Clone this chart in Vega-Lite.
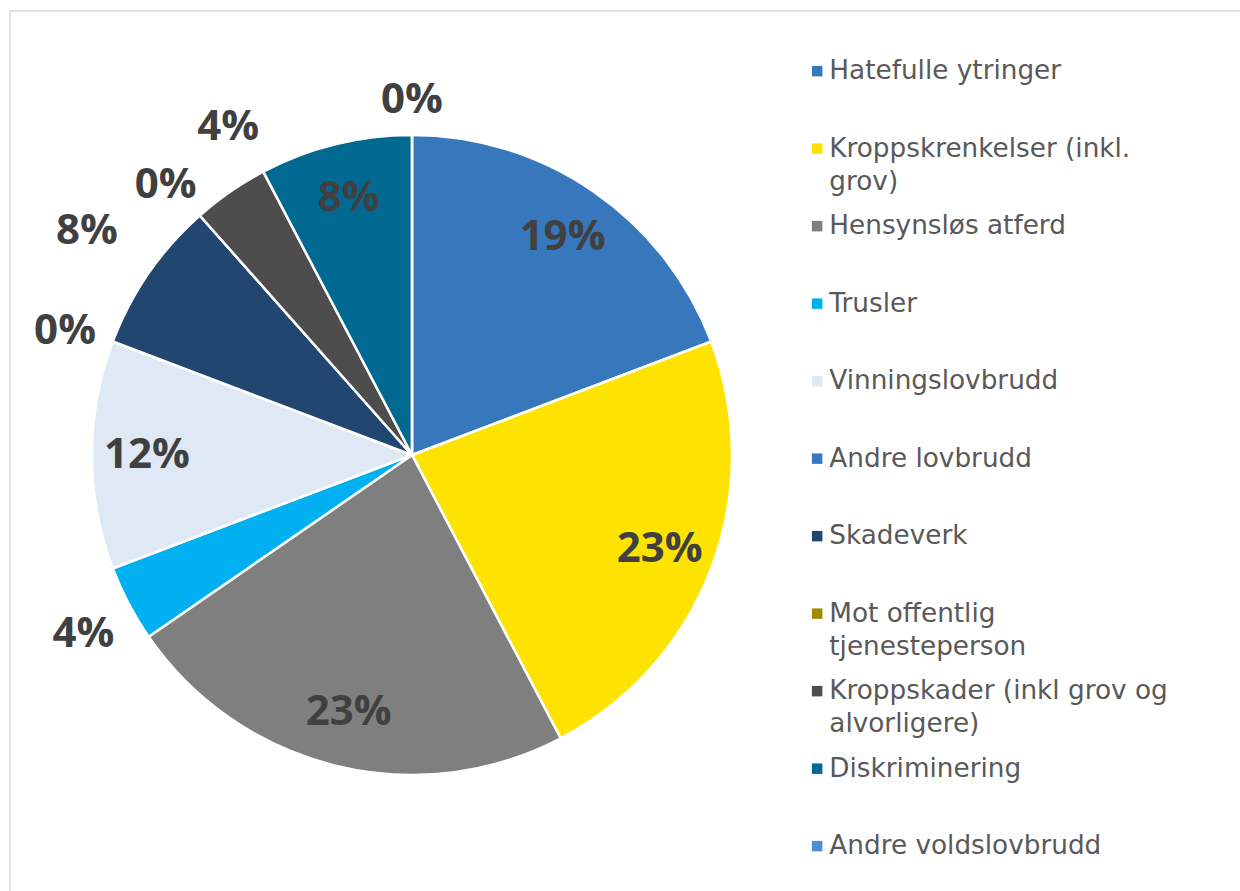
{
  "$schema": "https://vega.github.io/schema/vega-lite/v6.json",
  "width": 1240,
  "height": 890,
  "autosize": {"type": "none"},
  "padding": {"left": 10, "top": 11, "right": -10, "bottom": -10},
  "background": "white",
  "view": {"stroke": "#d9d9d9", "strokeWidth": 1.5, "fill": "white"},
  "config": {
    "style": {"guide-label": {"lineHeight": 33}},
    "legend": {
      "orient": "none",
      "legendX": 794,
      "legendY": 47,
      "padding": 0,
      "symbolType": "square",
      "symbolSize": 110,
      "symbolStrokeWidth": 0,
      "symbolOpacity": 1,
      "labelFont": "DejaVu Sans",
      "labelFontSize": 26.3,
      "labelColor": "#595959",
      "labelLimit": 600,
      "labelOffset": -1,
      "rowPadding": 17.5,
      "gridAlign": "all",
      "title": null
    }
  },
  "data": {
    "values": [
      {"idx": 1, "cat": "Hatefulle ytringer", "n": 5, "pct": "19%"},
      {"idx": 2, "cat": "Kroppskrenkelser (inkl. grov)", "n": 6, "pct": "23%"},
      {"idx": 3, "cat": "Hensynsløs atferd", "n": 6, "pct": "23%"},
      {"idx": 4, "cat": "Trusler", "n": 1, "pct": "4%"},
      {"idx": 5, "cat": "Vinningslovbrudd", "n": 3, "pct": "12%"},
      {"idx": 6, "cat": "Andre lovbrudd", "n": 0, "pct": "0%"},
      {"idx": 7, "cat": "Skadeverk", "n": 2, "pct": "8%"},
      {"idx": 8, "cat": "Mot offentlig tjenesteperson", "n": 0, "pct": "0%"},
      {"idx": 9, "cat": "Kroppskader (inkl grov og alvorligere)", "n": 1, "pct": "4%"},
      {"idx": 10, "cat": "Diskriminering", "n": 2, "pct": "8%"},
      {"idx": 11, "cat": "Andre voldslovbrudd", "n": 0, "pct": "0%"}
    ]
  },
  "encoding": {
    "theta": {"field": "n", "type": "quantitative", "stack": true},
    "order": {"field": "idx", "type": "quantitative"}
  },
  "layer": [
    {
      "mark": {"type": "arc", "radius": 320, "x": 402, "y": 444, "stroke": "white", "strokeWidth": 2.5},
      "encoding": {
        "color": {
          "field": "cat",
          "type": "nominal",
          "sort": null,
          "scale": {
            "domain": ["Hatefulle ytringer", "Kroppskrenkelser (inkl. grov)", "Hensynsløs atferd", "Trusler", "Vinningslovbrudd", "Andre lovbrudd", "Skadeverk", "Mot offentlig tjenesteperson", "Kroppskader (inkl grov og alvorligere)", "Diskriminering", "Andre voldslovbrudd"],
            "range": ["#3777BC", "#FFE300", "#7F7F7F", "#00B0F0", "#DFE8F5", "#3878BD", "#21466F", "#A08C00", "#4D4D4D", "#006991", "#4D8FD6"]
          },
          "legend": {
            "labelExpr": "datum.label == 'Kroppskrenkelser (inkl. grov)' ? ['Kroppskrenkelser (inkl.', 'grov)'] : datum.label == 'Mot offentlig tjenesteperson' ? ['Mot offentlig', 'tjenesteperson'] : datum.label == 'Kroppskader (inkl grov og alvorligere)' ? ['Kroppskader (inkl grov og', 'alvorligere)'] : datum.label"
          }
        }
      }
    },
    {
      "mark": {"type": "text", "x": 402, "y": 444, "radius": 265, "font": "Open Sans", "fontWeight": "bold", "fontSize": 42, "color": "#404040", "baseline": "middle", "align": "center"},
      "encoding": {
        "text": {"condition": {"test": "indexof(['Hatefulle ytringer','Kroppskrenkelser (inkl. grov)','Hensynsløs atferd','Vinningslovbrudd','Diskriminering'], datum.cat) >= 0", "field": "pct"}, "value": ""}
      }
    },
    {
      "mark": {"type": "text", "x": 402, "y": 444, "radius": 370, "dx": -1, "dy": 7, "font": "Open Sans", "fontWeight": "bold", "fontSize": 42, "color": "#404040", "baseline": "middle", "align": "center"},
      "encoding": {
        "text": {"condition": {"test": "indexof(['Trusler','Andre lovbrudd','Mot offentlig tjenesteperson'], datum.cat) >= 0", "field": "pct"}, "value": ""}
      }
    },
    {
      "mark": {"type": "text", "x": 402, "y": 444, "radius": 395, "font": "Open Sans", "fontWeight": "bold", "fontSize": 42, "color": "#404040", "baseline": "middle", "align": "center"},
      "encoding": {
        "text": {"condition": {"test": "datum.cat == 'Skadeverk'", "field": "pct"}, "value": ""}
      }
    },
    {
      "mark": {"type": "text", "x": 402, "y": 444, "radius": 378, "dx": 31, "dy": -17, "font": "Open Sans", "fontWeight": "bold", "fontSize": 42, "color": "#404040", "baseline": "middle", "align": "center"},
      "encoding": {
        "text": {"condition": {"test": "datum.cat == 'Kroppskader (inkl grov og alvorligere)'", "field": "pct"}, "value": ""}
      }
    },
    {
      "mark": {"type": "text", "x": 402, "y": 444, "radius": 355, "font": "Open Sans", "fontWeight": "bold", "fontSize": 42, "color": "#404040", "baseline": "middle", "align": "center"},
      "encoding": {
        "text": {"condition": {"test": "datum.cat == 'Andre voldslovbrudd'", "field": "pct"}, "value": ""}
      }
    }
  ]
}
